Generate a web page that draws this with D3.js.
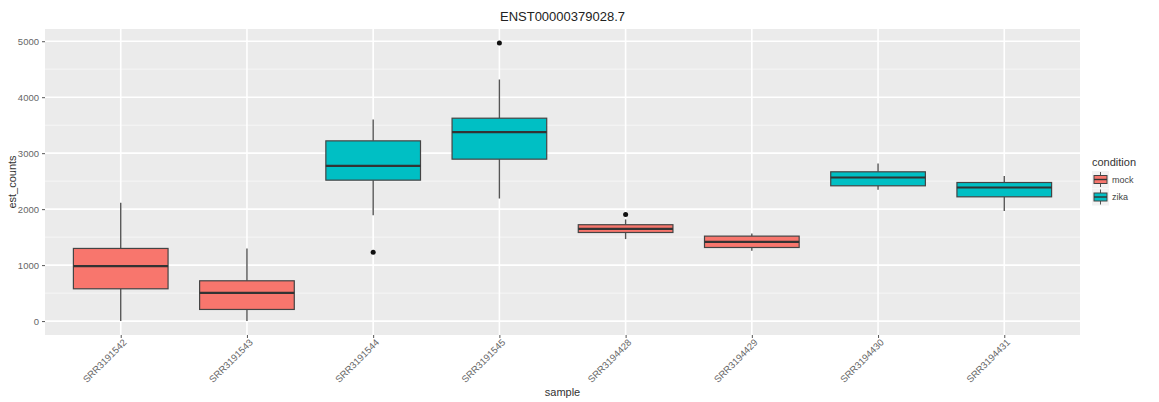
<!DOCTYPE html>
<html>
<head>
<meta charset="utf-8">
<script src="https://cdn.jsdelivr.net/npm/d3@7"></script>
<style>
  body { margin: 0; background: #fff; }
  svg text { font-family: "Liberation Sans", Arial, sans-serif; }
</style>
</head>
<body>
<svg id="chart" width="1159" height="402"></svg>
<script>
// boxplot stats
const samples = ["SRR3191542", "SRR3191543", "SRR3191544", "SRR3191545", "SRR3194428", "SRR3194429", "SRR3194430", "SRR3194431"]
const condition = ["mock", "mock", "zika", "zika", "mock", "mock", "zika", "zika"]
const lower = [0, 0, 1890, 2190, 1465, 1255, 2345, 1965]
const q1 = [577, 208, 2518, 2893, 1583, 1315, 2417, 2220]
const median = [982, 505, 2773, 3375, 1648, 1417, 2565, 2387]
const q3 = [1298, 720, 3220, 3625, 1722, 1518, 2667, 2476]
const upper = [2113, 1298, 3601, 4316, 1816, 1565, 2815, 2592]
const outliers = [[], [], [1232], [4970], [1905], [], [], []]
const conditions = ["mock", "zika"]
const y_ticks = [0, 1000, 2000, 3000, 4000, 5000]
const y_minor = [500, 1500, 2500, 3500, 4500]

const fill = d3.scaleOrdinal().domain(conditions).range(["#F8766D", "#00BFC4"])

const svg = d3.select("#chart")
const panel = { left: 45, right: 1080, top: 29, bottom: 335 }

const boxes = samples.map((s, i) => ({
    sample: s, condition: condition[i], lower: lower[i], q1: q1[i],
    median: median[i], q3: q3[i], upper: upper[i], outliers: outliers[i]
}))

// ggplot style 5% expansion
const all_vals = boxes.flatMap(d => [d.lower, d.upper, ...d.outliers])
const ymin = d3.min(all_vals), ymax = d3.max(all_vals)
const pad = (ymax - ymin) * 0.05
const y = d3.scaleLinear().domain([ymin - pad, ymax + pad]).range([panel.bottom, panel.top])
const x = d3.scalePoint().domain(samples).range([panel.left, panel.right]).padding(0.6)
const box_w = x.step() * 0.75

svg.append("rect")
    .attr("x", panel.left).attr("y", panel.top)
    .attr("width", panel.right - panel.left).attr("height", panel.bottom - panel.top)
    .attr("fill", "#EBEBEB")

const grid = svg.append("g")
grid.selectAll(".minor").data(y_minor).join("line")
    .attr("x1", panel.left).attr("x2", panel.right)
    .attr("y1", d => y(d)).attr("y2", d => y(d))
    .attr("stroke", "#F6F6F6").attr("stroke-width", 1)
grid.selectAll(".major").data(y_ticks).join("line")
    .attr("x1", panel.left).attr("x2", panel.right)
    .attr("y1", d => y(d)).attr("y2", d => y(d))
    .attr("stroke", "#FFFFFF").attr("stroke-width", 1.6)
grid.selectAll(".vmajor").data(samples).join("line")
    .attr("x1", d => x(d)).attr("x2", d => x(d))
    .attr("y1", panel.top).attr("y2", panel.bottom)
    .attr("stroke", "#FFFFFF").attr("stroke-width", 1.6)

// boxes
const g = svg.append("g").selectAll("g").data(boxes).join("g")
g.append("line")
    .attr("x1", d => x(d.sample)).attr("x2", d => x(d.sample))
    .attr("y1", d => y(d.q3)).attr("y2", d => y(d.upper))
    .attr("stroke", "#555").attr("stroke-width", 1.4)
g.append("line")
    .attr("x1", d => x(d.sample)).attr("x2", d => x(d.sample))
    .attr("y1", d => y(d.q1)).attr("y2", d => y(d.lower))
    .attr("stroke", "#555").attr("stroke-width", 1.4)
g.append("rect")
    .attr("x", d => x(d.sample) - box_w / 2)
    .attr("y", d => y(d.q3))
    .attr("width", box_w)
    .attr("height", d => y(d.q1) - y(d.q3))
    .attr("fill", d => fill(d.condition))
    .attr("stroke", "#444").attr("stroke-width", 1.2)
g.append("line")
    .attr("x1", d => x(d.sample) - box_w / 2).attr("x2", d => x(d.sample) + box_w / 2)
    .attr("y1", d => y(d.median)).attr("y2", d => y(d.median))
    .attr("stroke", "#333").attr("stroke-width", 2.2)
g.selectAll("circle").data(d => d.outliers.map(v => ({ sample: d.sample, v: v }))).join("circle")
    .attr("cx", d => x(d.sample)).attr("cy", d => y(d.v))
    .attr("r", 2.5).attr("fill", "#111")

// axes
const yAxis = svg.append("g")
    .attr("transform", `translate(${panel.left},0)`)
    .call(d3.axisLeft(y).tickValues(y_ticks).tickFormat(d3.format("d")).tickSize(3).tickPadding(3))
yAxis.select(".domain").remove()
yAxis.selectAll("line").attr("stroke", "#555")
yAxis.selectAll("text").attr("fill", "#666").attr("font-size", "9.5px")
    .style("font-family", "'Liberation Sans', Arial, sans-serif")

const xAxis = svg.append("g")
    .attr("transform", `translate(0,${panel.bottom})`)
    .call(d3.axisBottom(x).tickSize(3).tickPadding(3))
xAxis.select(".domain").remove()
xAxis.selectAll("line").attr("stroke", "#555")
xAxis.selectAll("text")
    .attr("fill", "#666").attr("font-size", "9.5px")
    .style("font-family", "'Liberation Sans', Arial, sans-serif")
    .attr("text-anchor", "end")
    .attr("x", 0).attr("y", 0).attr("dy", 0)
    .attr("transform", "translate(6,8) rotate(-45)")

// titles
svg.append("text")
    .attr("x", (panel.left + panel.right) / 2).attr("y", 21)
    .attr("text-anchor", "middle").attr("font-size", "13px").attr("fill", "#222")
    .text("ENST00000379028.7")
svg.append("text")
    .attr("x", (panel.left + panel.right) / 2).attr("y", 396)
    .attr("text-anchor", "middle").attr("font-size", "11px").attr("fill", "#333")
    .text("sample")
svg.append("text")
    .attr("transform", `translate(16,${(panel.top + panel.bottom) / 2}) rotate(-90)`)
    .attr("text-anchor", "middle").attr("font-size", "11px").attr("fill", "#333")
    .text("est_counts")

// legend
const legend = svg.append("g").attr("transform", "translate(1092,0)")
legend.append("text")
    .attr("x", 0).attr("y", 166)
    .attr("font-size", "11px").attr("fill", "#333")
    .text("condition")
const key = legend.selectAll(".key").data(conditions).join("g")
    .attr("transform", (d, i) => `translate(0,${171 + i * 17.5})`)
key.append("rect").attr("width", 17).attr("height", 17).attr("fill", "#F2F2F2")
key.append("line").attr("x1", 8.5).attr("x2", 8.5).attr("y1", 1).attr("y2", 16)
    .attr("stroke", "#555").attr("stroke-width", 1)
key.append("rect").attr("x", 2).attr("y", 4.5).attr("width", 13).attr("height", 8)
    .attr("fill", d => fill(d)).attr("stroke", "#444").attr("stroke-width", 1)
key.append("line").attr("x1", 2).attr("x2", 15).attr("y1", 8.5).attr("y2", 8.5)
    .attr("stroke", "#333").attr("stroke-width", 1.4)
key.append("text")
    .attr("x", 20).attr("y", 8.5).attr("dy", "0.35em")
    .attr("font-size", "9px").attr("fill", "#444")
    .text(d => d)
</script>
</body>
</html>
